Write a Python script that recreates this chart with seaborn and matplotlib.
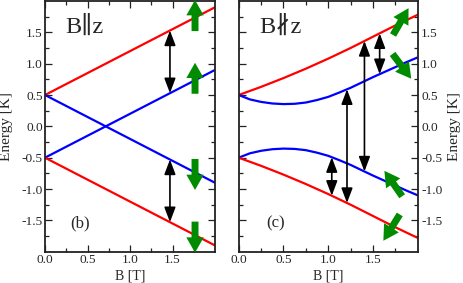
import numpy as np
import pandas as pd
import matplotlib
matplotlib.use("Agg")
import matplotlib.pyplot as plt
from matplotlib.ticker import FixedLocator
import seaborn as sns

# ---------------- data ----------------
# left panel (B || z): straight Zeeman lines
B_left = [0.0, 2.0]
left_red_up = [0.5, 1.9]
left_blue_up = [-0.5, 0.9]
left_blue_dn = [0.5, -0.9]
left_red_dn = [-0.5, -1.9]

# right panel (B not || z)
B_right = [0.0, 0.125, 0.25, 0.375, 0.5, 0.625, 0.75, 0.875, 1.0,
           1.125, 1.25, 1.375, 1.5, 1.625, 1.75, 1.875, 2.0]
right_red_up = [0.50, 0.565, 0.63, 0.70, 0.77, 0.845, 0.92, 1.00, 1.08,
                1.165, 1.25, 1.34, 1.43, 1.52, 1.61, 1.695, 1.78]
right_blue_up = [0.50, 0.43, 0.39, 0.365, 0.355, 0.36, 0.38, 0.42, 0.47,
                 0.54, 0.615, 0.70, 0.785, 0.865, 0.945, 1.025, 1.10]
right_blue_dn = [-v for v in right_blue_up]
right_red_dn = [-v for v in right_red_up]

# transitions (black arrows): field value, from level, to level
left_trans_B = [1.47, 1.47]
left_trans_levels = [("red_up", "blue_up"), ("blue_dn", "red_dn")]
right_trans_B = [1.575, 1.405, 1.21, 1.04]
right_trans_levels = [("red_up", "blue_up"), ("red_up", "blue_dn"),
                      ("blue_up", "red_dn"), ("blue_dn", "red_dn")]

# spin arrows (green): field value, level, direction angle (deg, screen)
left_spin_B = [1.765, 1.765, 1.765, 1.765]
left_spin_levels = ["red_up", "blue_up", "blue_dn", "red_dn"]
left_spin_angle = [90, 90, -90, -90]
right_spin_B = [1.80, 1.81, 1.74, 1.72]
right_spin_levels = ["red_up", "blue_up", "blue_dn", "red_dn"]
right_spin_angle = [60, -53, 125, -122]

xticks = [0.0, 0.5, 1.0, 1.5]
yticks = [-1.5, -1.0, -0.5, 0.0, 0.5, 1.0, 1.5]

# ---------------- style ----------------
sns.set_style("ticks")
plt.rcParams["font.family"] = ["Liberation Serif", "DejaVu Serif"]
plt.rcParams["axes.edgecolor"] = "#222222"

W, H = 463, 283
fig = plt.figure(figsize=(W / 100, H / 100), dpi=100)
bot_px, top_px = 251.7, 1.0
axL = fig.add_axes([45 / W, (H - bot_px) / H, 170 / W, (bot_px - top_px) / H])
axR = fig.add_axes([238.7 / W, (H - bot_px) / H, 179 / W, (bot_px - top_px) / H])

colors = {"red_up": "#ff0000", "red_dn": "#ff0000",
          "blue_up": "#0000ff", "blue_dn": "#0000ff"}

def make_df(B, series):
    rows = []
    for name, vals in series.items():
        for b, e in zip(B, vals):
            rows.append({"B": b, "E": e, "level": name})
    return pd.DataFrame(rows)

left_series = {"red_up": left_red_up, "blue_up": left_blue_up,
               "blue_dn": left_blue_dn, "red_dn": left_red_dn}
right_series = {"red_up": right_red_up, "blue_up": right_blue_up,
                "blue_dn": right_blue_dn, "red_dn": right_red_dn}

for ax, B, series in [(axL, B_left, left_series), (axR, B_right, right_series)]:
    df = make_df(B, series)
    sns.lineplot(data=df, x="B", y="E", hue="level", palette=colors,
                 estimator=None, legend=False, lw=1.6, ax=ax)
    ax.set_xlim(0, 2)
    ax.set_ylim(-2, 2)
    ax.xaxis.set_major_locator(FixedLocator(xticks))
    ax.xaxis.set_minor_locator(FixedLocator([0.25, 0.75, 1.25, 1.75]))
    ax.yaxis.set_major_locator(FixedLocator(yticks))
    ax.yaxis.set_minor_locator(FixedLocator([-1.75, -1.25, -0.75, -0.25,
                                             0.25, 0.75, 1.25, 1.75]))
    ax.set_xticklabels([f"{t:.1f}" for t in xticks])
    ax.tick_params(which="both", direction="in", top=True, bottom=True,
                   left=True, right=True, width=0.9, color="#222222",
                   labelsize=9.6)
    ax.tick_params(which="major", length=5)
    ax.tick_params(which="minor", length=3)
    ax.tick_params(axis="x", pad=2.0)
    for s in ax.spines.values():
        s.set_linewidth(1.3)
    ax.set_xlabel("B [T]", fontsize=10)
    ax.set_ylabel("Energy [K]", fontsize=11)
    ax.xaxis.set_label_coords(0.5, -0.072)

axL.set_yticklabels([f"{t:.1f}" for t in yticks])
axL.tick_params(axis="y", labelleft=True, labelright=False, pad=1.5)
axL.yaxis.set_label_coords((13.5 - 45) / 170, 0.5)

axR.yaxis.set_label_position("right")
axR.set_yticklabels([f"{t:.1f}" for t in yticks])
axR.tick_params(axis="y", labelleft=False, labelright=True, pad=2.5)
axR.yaxis.set_label_coords((448.3 - 238.7) / 179, 0.5)

# titles and panel letters
axL.text(0.118, 0.872, "B\u2225z", transform=axL.transAxes, fontsize=17.5,
         va="baseline", ha="left")
axR.text(0.115, 0.872, "B\u2226z", transform=axR.transAxes, fontsize=17.5,
         va="baseline", ha="left")
axL.text(0.147, 0.095, "(b)", transform=axL.transAxes, fontsize=12,
         va="baseline", ha="left")
axR.text(0.153, 0.095, "(c)", transform=axR.transAxes, fontsize=12,
         va="baseline", ha="left")

fig.canvas.draw()

def level_at(B, series, name, b):
    return float(np.interp(b, B, series[name]))

def draw_transitions(ax, B, series, tB, tlev):
    for b, (a, c) in zip(tB, tlev):
        e1 = level_at(B, series, a, b)
        e2 = level_at(B, series, c, b)
        ax.annotate("", xy=(b, e2), xytext=(b, e1),
                    arrowprops=dict(arrowstyle="<|-|>,head_length=0.45,head_width=0.17",
                                    color="black", lw=1.2, shrinkA=0, shrinkB=0,
                                    mutation_scale=20))

def draw_spins(ax, B, series, sB, slev, sang, length=31, shift=2.0):
    for b, name, ang in zip(sB, slev, sang):
        e = level_at(B, series, name, b)
        p = ax.transData.transform((b, e))
        d = np.array([np.cos(np.radians(ang)), np.sin(np.radians(ang))])
        c = p + shift * d
        tip = c + d * length / 2
        base = c - d * length / 2
        ax.annotate("", xy=tuple(tip), xytext=tuple(base),
                    xycoords="figure pixels", textcoords="figure pixels",
                    arrowprops=dict(arrowstyle="simple,head_length=1.1,head_width=1.25,tail_width=0.5",
                                    color="#008b00", lw=0, shrinkA=0, shrinkB=0,
                                    mutation_scale=10))

draw_transitions(axL, B_left, left_series, left_trans_B, left_trans_levels)
draw_transitions(axR, B_right, right_series, right_trans_B, right_trans_levels)
draw_spins(axL, B_left, left_series, left_spin_B, left_spin_levels, left_spin_angle)
draw_spins(axR, B_right, right_series, right_spin_B, right_spin_levels, right_spin_angle)

fig.savefig("out.png", dpi=100)
